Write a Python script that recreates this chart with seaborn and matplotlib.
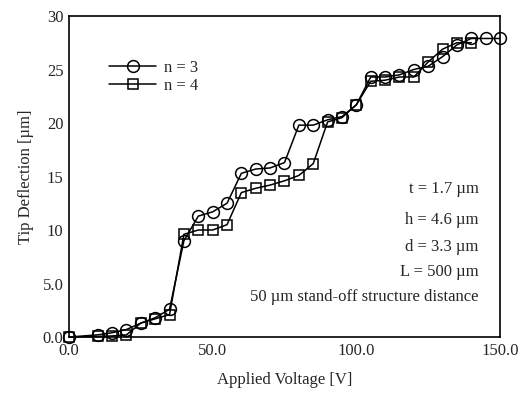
import pandas as pd
import matplotlib
matplotlib.use("Agg")
import matplotlib.pyplot as plt
import seaborn as sns

# n = 3 (circles)
v_n3 = [0, 10, 15, 20, 25, 30, 35, 40, 45, 50, 55, 60, 65, 70, 75, 80, 85, 90, 95,
        100, 105, 110, 115, 120, 125, 130, 135, 140, 145, 150]
d_n3 = [0.0, 0.2, 0.4, 0.7, 1.3, 1.8, 2.6, 9.0, 11.3, 11.7, 12.5, 15.3, 15.7, 15.8, 16.3,
        19.8, 19.8, 20.3, 20.6, 21.7, 24.3, 24.3, 24.5, 25.0, 25.3, 26.2, 27.3, 27.9, 27.9, 27.9]

# n = 4 (squares)
v_n4 = [0, 10, 15, 20, 25, 30, 35, 40, 45, 50, 55, 60, 65, 70, 75, 80, 85, 90, 95,
        100, 105, 110, 115, 120, 125, 130, 135, 140]
d_n4 = [0.0, 0.05, 0.1, 0.2, 1.3, 1.7, 2.1, 9.6, 10.0, 10.0, 10.5, 13.5, 13.9, 14.2, 14.6,
        15.1, 16.2, 20.1, 20.5, 21.7, 23.9, 24.0, 24.3, 24.3, 25.7, 26.9, 27.5, 27.5]

notes = ["t = 1.7 \u00b5m", "h = 4.6 \u00b5m", "d = 3.3 \u00b5m", "L = 500 \u00b5m",
         "50 \u00b5m stand-off structure distance"]
note_y = [13.8, 10.9, 8.4, 6.1, 3.7]

sns.set_style("white")
plt.rcParams['font.family'] = ['Liberation Serif', 'DejaVu Serif']

fig = plt.figure(figsize=(5.21, 3.95), dpi=100)
ax = fig.add_axes([0.1324, 0.1468, 0.8273, 0.8127])

df3 = pd.DataFrame({'V': v_n3, 'D': d_n3})
df4 = pd.DataFrame({'V': v_n4, 'D': d_n4})
# open markers, lines run through them like in the scanned original
sns.lineplot(data=df3, x='V', y='D', ax=ax, color='black', lw=1.1, marker='o', ms=8.5,
             mfc='none', mec='black', mew=1.1, label='n = 3', clip_on=False, zorder=4)
sns.lineplot(data=df4, x='V', y='D', ax=ax, color='black', lw=1.1, marker='s', ms=7.5,
             mfc='none', mec='black', mew=1.1, label='n = 4', clip_on=False, zorder=3)

ax.set_xlim(0, 150)
ax.set_ylim(0, 30)
ax.set_xticks([0, 50, 100, 150])
ax.set_xticklabels(['0.0', '50.0', '100.0', '150.0'])
ax.set_yticks([0, 5, 10, 15, 20, 25, 30])
ax.set_yticklabels(['0.0', '5.0', '10', '15', '20', '25', '30'])
ax.set_xticks(range(0, 151, 5), minor=True)
ax.set_yticks(range(0, 31, 1), minor=True)
ax.tick_params(which='both', direction='in', top=False, right=False, labelsize=12,
               color='black', pad=4)
ax.tick_params(which='major', length=6, width=1)
ax.tick_params(which='minor', length=3.5, width=0.8)
for s in ax.spines.values():
    s.set_color('black')
    s.set_linewidth(1.2)

ax.set_xlabel('Applied Voltage [V]', fontsize=12, labelpad=10)
ax.set_ylabel('Tip Deflection [\u00b5m]', fontsize=12, labelpad=6)

for t, y in zip(notes, note_y):
    ax.text(142.5, y, t, ha='right', va='center', fontsize=12)

leg = ax.legend(loc='upper left', bbox_to_anchor=(0.078, 0.885), frameon=False,
                fontsize=12, handlelength=2.8, labelspacing=0.15, borderaxespad=0,
                handletextpad=0.5)

fig.savefig('out.png', dpi=100)
